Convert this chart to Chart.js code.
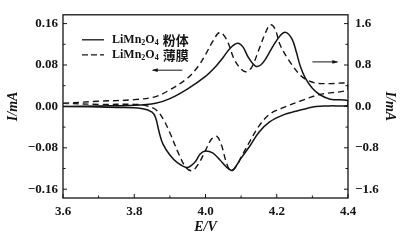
<!DOCTYPE html>
<html>
<head>
<meta charset="utf-8">
<script src="https://cdn.jsdelivr.net/npm/chart.js@4.4.0/dist/chart.umd.min.js"></script>
<style>
  html, body { margin: 0; padding: 0; background: #fff; }
</style>
</head>
<body>
<canvas id="cv" width="414" height="245"></canvas>
<script>
// CV curves, potential in V
// powder (solid line), left axis, mA
const powderUpV = [3.60, 3.70, 3.80, 3.86, 3.90, 3.95, 4.00, 4.03, 4.05, 4.07, 4.09, 4.105, 4.12, 4.14, 4.155, 4.17, 4.19, 4.21, 4.225, 4.243, 4.255, 4.265, 4.28, 4.30, 4.32, 4.35, 4.40]
const powderUpI = [0.000, 0.001, 0.002, 0.006, 0.015, 0.034, 0.058, 0.078, 0.095, 0.113, 0.122, 0.115, 0.095, 0.078, 0.080, 0.093, 0.117, 0.137, 0.143, 0.130, 0.105, 0.080, 0.055, 0.035, 0.023, 0.014, 0.011]
const powderDownV = [4.40, 4.35, 4.31, 4.25, 4.22, 4.18, 4.15, 4.125, 4.10, 4.085, 4.075, 4.06, 4.04, 4.02, 4.00, 3.985, 3.97, 3.948, 3.92, 3.90, 3.88, 3.87, 3.86, 3.85, 3.82, 3.75, 3.60]
const powderDownI = [0.002, 0.001, 0.000, -0.010, -0.016, -0.030, -0.050, -0.076, -0.100, -0.116, -0.124, -0.118, -0.103, -0.090, -0.086, -0.092, -0.108, -0.118, -0.108, -0.094, -0.072, -0.050, -0.022, -0.011, -0.004, -0.002, 0.000]

// film (dashed line), right axis
const filmUpV = [3.60, 3.70, 3.80, 3.86, 3.90, 3.95, 3.98, 4.00, 4.02, 4.04, 4.06, 4.08, 4.10, 4.115, 4.13, 4.15, 4.17, 4.182, 4.195, 4.21, 4.237, 4.265, 4.285, 4.31, 4.35, 4.40]
const filmUpI = [0.06, 0.10, 0.13, 0.19, 0.32, 0.55, 0.78, 1.00, 1.25, 1.43, 1.28, 0.92, 0.72, 0.67, 0.76, 1.10, 1.45, 1.58, 1.50, 1.18, 0.86, 0.61, 0.51, 0.45, 0.44, 0.44]
const filmDownV = [4.40, 4.32, 4.265, 4.22, 4.18, 4.15, 4.125, 4.10, 4.085, 4.07, 4.057, 4.045, 4.032, 4.017, 4.00, 3.983, 3.963, 3.945, 3.925, 3.90, 3.88, 3.86, 3.83, 3.80, 3.70, 3.60]
const filmDownI = [0.32, 0.23, 0.10, -0.02, -0.15, -0.38, -0.67, -0.98, -1.17, -1.24, -1.05, -0.75, -0.58, -0.63, -0.85, -1.08, -1.24, -1.18, -0.92, -0.51, -0.23, -0.06, 0.02, 0.04, 0.04, 0.06]

const seriesNames = ['粉体', '薄膜']

const xTicks = [3.6, 3.8, 4.0, 4.2, 4.4]
const xMinor = [3.7, 3.9, 4.1, 4.3]
const leftTicks = [-0.16, -0.08, 0, 0.08, 0.16]
const leftMinor = [-0.12, -0.04, 0.04, 0.12]
const rightTicks = [-1.6, -0.8, 0, 0.8, 1.6]
const rightMinor = [-1.2, -0.4, 0.4, 1.2]

// the two arrows telling which axis belongs to which curve
const arrowLeft = { from: [3.935, 0.070], to: [3.852, 0.070] }   // left axis units
const arrowRight = { from: [4.300, 0.86], to: [4.370, 0.86] }    // right axis units

const INK = '#141414'
const SERIF = "'Liberation Serif', 'Times New Roman', serif"

function loop(upV, upI, downV, downI) {
  let pts = upV.map((v, i) => ({ x: v, y: upI[i] }))
  return pts.concat(downV.map((v, i) => ({ x: v, y: downI[i] })))
}

function minus(s) {
  return s.replace('-', '\u2212')
}

function setTicks(major, minor) {
  return scale => {
    scale.ticks = major.concat(minor).sort((a, b) => a - b).map(v => ({ value: v }))
  }
}

function tickDraw(ctx, scale, values, len, side) {
  let a = scale.chart.chartArea
  for (let v of values) {
    let p = scale.getPixelForValue(v)
    ctx.beginPath()
    if (side === 'bottom') { ctx.moveTo(p, a.bottom); ctx.lineTo(p, a.bottom - len) }
    if (side === 'left') { ctx.moveTo(a.left, p); ctx.lineTo(a.left + len, p) }
    if (side === 'right') { ctx.moveTo(a.right, p); ctx.lineTo(a.right - len, p) }
    ctx.stroke()
  }
}

function arrow(ctx, xs, ys, arr) {
  let x1 = xs.getPixelForValue(arr.from[0]), y1 = ys.getPixelForValue(arr.from[1])
  let x2 = xs.getPixelForValue(arr.to[0]), y2 = ys.getPixelForValue(arr.to[1])
  let dir = Math.sign(x2 - x1)
  ctx.beginPath()
  ctx.moveTo(x1, y1)
  ctx.lineTo(x2, y2)
  ctx.stroke()
  ctx.beginPath()
  ctx.moveTo(x2 + dir * 1, y2)
  ctx.lineTo(x2 - dir * 5, y2 - 1.8)
  ctx.lineTo(x2 - dir * 5, y2 + 1.8)
  ctx.closePath()
  ctx.fill()
}

const framePlugin = {
  id: 'frame',
  afterDatasetsDraw(chart) {
    let { ctx, chartArea: a, scales } = chart
    ctx.save()
    ctx.strokeStyle = INK
    ctx.fillStyle = INK
    ctx.lineWidth = 1.3
    ctx.strokeRect(a.left, a.top, a.right - a.left, a.bottom - a.top)

    ctx.lineWidth = 1
    tickDraw(ctx, scales.x, xTicks, 4, 'bottom')
    tickDraw(ctx, scales.x, xMinor, 2.5, 'bottom')
    tickDraw(ctx, scales.yL, leftTicks, 4, 'left')
    tickDraw(ctx, scales.yL, leftMinor, 2.5, 'left')
    tickDraw(ctx, scales.yR, rightTicks, 4, 'right')
    tickDraw(ctx, scales.yR, rightMinor, 2.5, 'right')

    arrow(ctx, scales.x, scales.yL, arrowLeft)
    arrow(ctx, scales.x, scales.yR, arrowRight)

    // legend with subscripts, inside the plot at top left
    let x0 = a.left + 19, y0 = a.top + 25
    chart.data.datasets.forEach((ds, i) => {
      let y = y0 + i * 15
      ctx.lineWidth = 1.3
      ctx.setLineDash(ds.borderDash ? [6, 3] : [])
      ctx.beginPath()
      ctx.moveTo(x0, y)
      ctx.lineTo(x0 + 22, y)
      ctx.stroke()
      ctx.setLineDash([])

      let parts = [['LiMn', 0], ['2', 1], ['O', 0], ['4', 1]]
      let tx = x0 + 30
      ctx.textBaseline = 'middle'
      for (let [t, sub] of parts) {
        ctx.font = sub ? 'bold 8px ' + SERIF : 'bold 12px ' + SERIF
        ctx.fillText(t, tx, y + (sub ? 3 : 0))
        tx += ctx.measureText(t).width
      }
      ctx.font = "bold 13px 'Noto Sans CJK SC', sans-serif"
      ctx.fillText(seriesNames[i], tx + 4, y)
    })
    ctx.restore()
  }
}

const tickFont = { family: SERIF, size: 13, weight: 'bold' }
const titleFont = { family: SERIF, size: 14, style: 'italic', weight: 'bold' }

new Chart(document.getElementById('cv'), {
  type: 'scatter',
  data: {
    datasets: [
      {
        label: 'LiMn2O4 ' + seriesNames[0],
        data: loop(powderUpV, powderUpI, powderDownV, powderDownI),
        yAxisID: 'yL',
        showLine: true,
        borderColor: INK,
        borderWidth: 1.5,
        pointRadius: 0,
        tension: 0.35
      },
      {
        label: 'LiMn2O4 ' + seriesNames[1],
        data: loop(filmUpV, filmUpI, filmDownV, filmDownI),
        yAxisID: 'yR',
        showLine: true,
        borderColor: INK,
        borderWidth: 1.4,
        borderDash: [6, 4],
        pointRadius: 0,
        tension: 0.35
      }
    ]
  },
  options: {
    responsive: false,
    animation: false,
    layout: { padding: { top: 12, left: 0, right: 0, bottom: 0 } },
    plugins: { legend: { display: false }, tooltip: { enabled: false } },
    scales: {
      x: {
        type: 'linear',
        min: 3.6,
        max: 4.4,
        afterBuildTicks: setTicks(xTicks, xMinor),
        afterFit: s => { s.height = 47 },
        grid: { display: false, drawTicks: false },
        border: { display: false },
        ticks: {
          autoSkip: false,
          maxRotation: 0,
          padding: 6,
          color: INK,
          font: tickFont,
          callback: v => xTicks.includes(v) ? v.toFixed(1) : ''
        },
        title: { display: true, text: 'E/V', color: INK, font: titleFont, padding: { top: 0, bottom: 9 } }
      },
      yL: {
        position: 'left',
        min: -0.177,
        max: 0.177,
        afterBuildTicks: setTicks(leftTicks, leftMinor),
        afterFit: s => { s.width = 63 },
        grid: { display: false, drawTicks: false },
        border: { display: false },
        ticks: {
          autoSkip: false,
          padding: 5,
          color: INK,
          font: tickFont,
          callback: v => leftTicks.includes(v) ? minus(v.toFixed(2)) : ''
        },
        title: { display: true, text: 'I/mA', color: INK, font: titleFont, padding: { top: 5, bottom: 0 } }
      },
      yR: {
        position: 'right',
        min: -1.77,
        max: 1.77,
        afterBuildTicks: setTicks(rightTicks, rightMinor),
        afterFit: s => { s.width = 66 },
        grid: { display: false, drawTicks: false },
        border: { display: false },
        ticks: {
          autoSkip: false,
          padding: 7,
          color: INK,
          font: tickFont,
          callback: v => rightTicks.includes(v) ? minus(v.toFixed(1)) : ''
        },
        title: { display: true, text: 'I/mA', color: INK, font: titleFont, padding: { top: 16, bottom: 0 } }
      }
    }
  },
  plugins: [framePlugin]
})
</script>
</body>
</html>
